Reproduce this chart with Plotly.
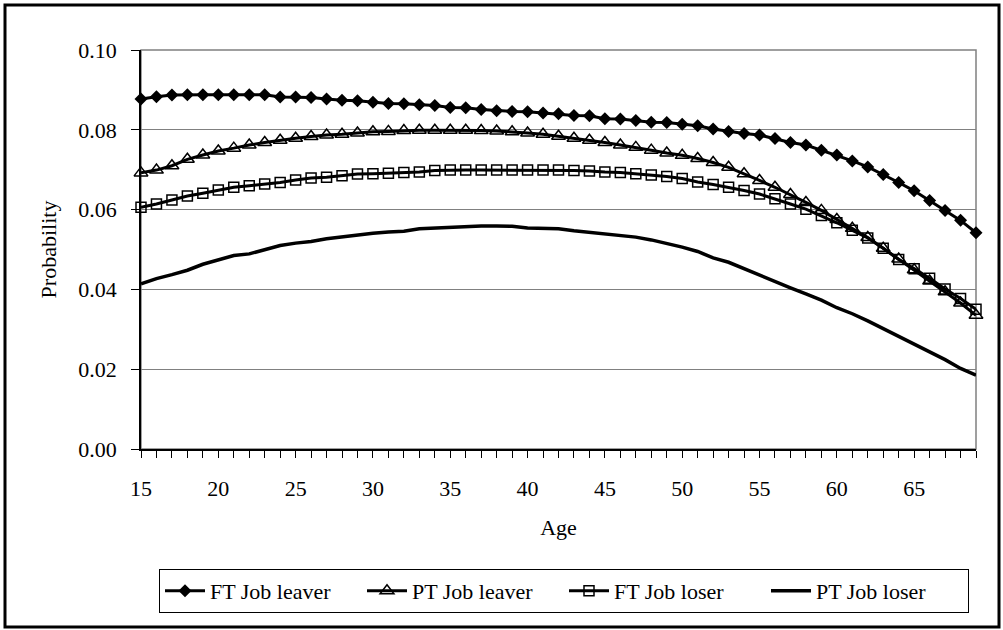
import plotly.graph_objects as go

ages = list(range(15, 70))

ft_leaver = [0.0877, 0.0883, 0.0887, 0.0888, 0.0888, 0.0888, 0.0888, 0.0888, 0.0888, 0.0882,
             0.0882, 0.0881, 0.0877, 0.0874, 0.0873, 0.0869, 0.0866, 0.0865, 0.0863, 0.0861,
             0.0856, 0.0855, 0.0851, 0.0848, 0.0846, 0.0845, 0.0842, 0.0840, 0.0836, 0.0835,
             0.0828, 0.0827, 0.0823, 0.0819, 0.0818, 0.0814, 0.0810, 0.0802, 0.0796, 0.0791,
             0.0787, 0.0778, 0.0768, 0.0762, 0.0749, 0.0737, 0.0722, 0.0707, 0.0688, 0.0668,
             0.0647, 0.0623, 0.0598, 0.0573, 0.0542]

pt_leaver = [0.0692, 0.0699, 0.0710, 0.0726, 0.0737, 0.0747, 0.0754, 0.0762, 0.0768, 0.0774,
             0.0779, 0.0783, 0.0787, 0.0789, 0.0792, 0.0795, 0.0796, 0.0798, 0.0799, 0.0799,
             0.0799, 0.0799, 0.0798, 0.0797, 0.0795, 0.0792, 0.0789, 0.0784, 0.0779, 0.0774,
             0.0768, 0.0762, 0.0756, 0.0749, 0.0742, 0.0736, 0.0728, 0.0718, 0.0706, 0.0690,
             0.0673, 0.0656, 0.0638, 0.0618, 0.0598, 0.0575, 0.0553, 0.0530, 0.0503, 0.0476,
             0.0449, 0.0421, 0.0394, 0.0366, 0.0335]

ft_loser = [0.0606, 0.0614, 0.0624, 0.0634, 0.0641, 0.0649, 0.0656, 0.0660, 0.0664, 0.0668,
            0.0674, 0.0679, 0.0681, 0.0685, 0.0689, 0.0690, 0.0691, 0.0693, 0.0694, 0.0698,
            0.0699, 0.0699, 0.0699, 0.0699, 0.0699, 0.0699, 0.0699, 0.0699, 0.0698, 0.0697,
            0.0694, 0.0693, 0.0690, 0.0687, 0.0683, 0.0678, 0.0669, 0.0663, 0.0656, 0.0648,
            0.0639, 0.0627, 0.0614, 0.0601, 0.0585, 0.0567, 0.0548, 0.0529, 0.0503, 0.0475,
            0.0452, 0.0428, 0.0401, 0.0377, 0.0350]

pt_loser = [0.0414, 0.0427, 0.0437, 0.0448, 0.0463, 0.0474, 0.0485, 0.0489, 0.0499, 0.0510,
            0.0516, 0.0520, 0.0527, 0.0532, 0.0537, 0.0541, 0.0544, 0.0546, 0.0552, 0.0554,
            0.0555, 0.0557, 0.0559, 0.0559, 0.0558, 0.0554, 0.0553, 0.0552, 0.0547, 0.0543,
            0.0539, 0.0535, 0.0531, 0.0524, 0.0516, 0.0506, 0.0495, 0.0479, 0.0468, 0.0452,
            0.0435, 0.0418, 0.0404, 0.0389, 0.0373, 0.0354, 0.0339, 0.0321, 0.0302, 0.0281,
            0.0263, 0.0243, 0.0224, 0.0202, 0.0185]

series_names = ["FT Job leaver", "PT Job leaver", "FT Job loser", "PT Job loser"]

FONT = "Liberation Serif, Times New Roman, serif"

fig = go.Figure()
fig.add_trace(go.Scatter(x=ages, y=ft_leaver, name=series_names[0], mode="lines+markers",
                         line=dict(color="black", width=3),
                         marker=dict(symbol="diamond", size=10, color="black"),
                         cliponaxis=False))
fig.add_trace(go.Scatter(x=ages, y=pt_leaver, name=series_names[1], mode="lines+markers",
                         line=dict(color="black", width=3),
                         marker=dict(symbol="triangle-up-open", size=12, color="black",
                                     line=dict(width=1.5, color="black")),
                         cliponaxis=False))
fig.add_trace(go.Scatter(x=ages, y=ft_loser, name=series_names[2], mode="lines+markers",
                         line=dict(color="black", width=3),
                         marker=dict(symbol="square-open", size=10, color="black",
                                     line=dict(width=1.5, color="black")),
                         cliponaxis=False))
fig.add_trace(go.Scatter(x=ages, y=pt_loser, name=series_names[3], mode="lines",
                         line=dict(color="black", width=3.5),
                         cliponaxis=False))

W, H = 1003, 630
L, R, T, B = 141, 976, 50, 449
pw, ph = R - L, B - T

def px(xp):
    return (xp - L) / pw

def py(yp):
    return (B - yp) / ph

fig.update_layout(
    width=W, height=H,
    margin=dict(l=L, r=W - R, t=T, b=H - B),
    paper_bgcolor="white", plot_bgcolor="white",
    font=dict(family=FONT, size=22, color="black"),
    showlegend=True,
    legend=dict(orientation="h", x=px(564), y=py(591), xanchor="center", yanchor="middle",
                bordercolor="black", borderwidth=1, bgcolor="white",
                font=dict(family=FONT, size=22, color="black"),
                entrywidth=147, entrywidthmode="pixels", itemwidth=40,
                tracegroupgap=0),
    xaxis=dict(range=[15, 69], tickmode="linear", tick0=15, dtick=5,
               ticks="outside", ticklen=7, tickcolor="black", tickwidth=1,
               showline=True, linecolor="black", linewidth=1.5,
               showgrid=False, zeroline=False,
               ticklabelstandoff=12,
               minor=dict(tick0=15, dtick=1, ticks="outside", ticklen=7,
                          tickcolor="black", tickwidth=1, showgrid=False),
               title=dict(text="Age", standoff=19, font=dict(family=FONT, size=22))),
    yaxis=dict(range=[0, 0.10], tickmode="linear", tick0=0, dtick=0.02, tickformat=".2f",
               ticks="outside", ticklen=8, tickcolor="black", tickwidth=1,
               showline=True, linecolor="black", linewidth=1.5,
               showgrid=True, gridcolor="#808080", gridwidth=1, zeroline=False,
               ticklabelstandoff=10,
               title=dict(text="Probability", standoff=16, font=dict(family=FONT, size=22))),
    shapes=[
        dict(type="rect", xref="paper", yref="paper", x0=0, x1=1, y0=0, y1=1,
             line=dict(color="#808080", width=1.5), layer="below"),
        dict(type="rect", xref="paper", yref="paper", x0=px(5), x1=px(999), y0=py(627), y1=py(5),
             line=dict(color="black", width=3), layer="below"),
    ],
)

fig.write_html("out.html")
